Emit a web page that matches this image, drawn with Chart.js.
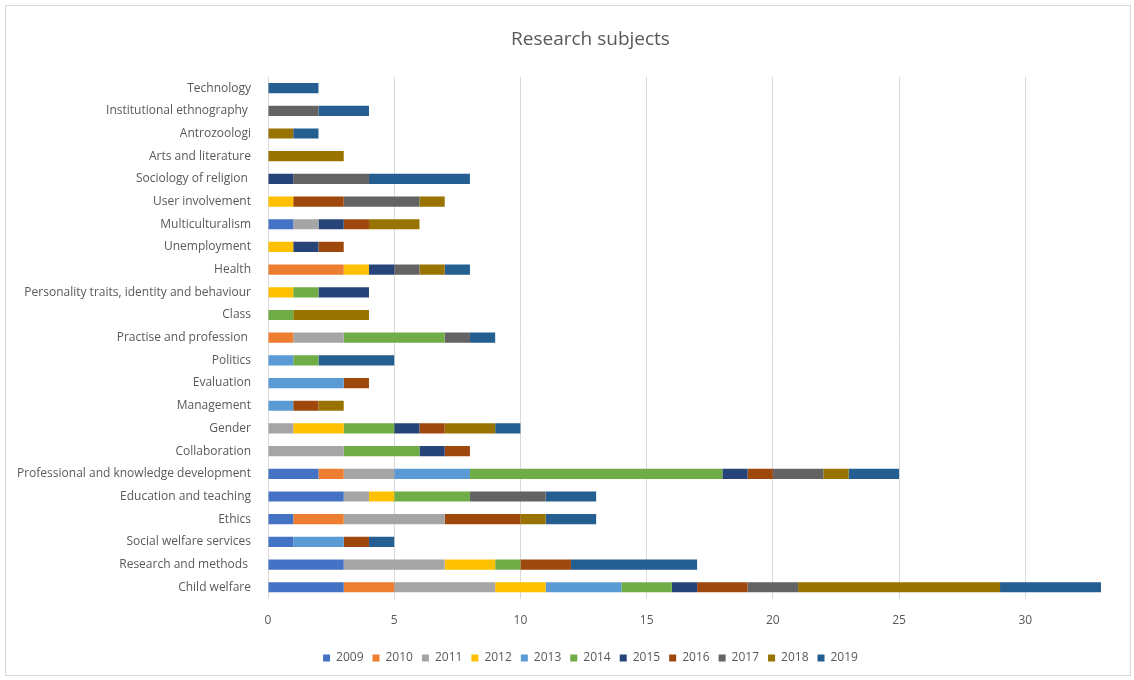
<!DOCTYPE html>
<html>
<head>
<meta charset="utf-8">
<script src="https://cdn.jsdelivr.net/npm/chart.js@4.4.0/dist/chart.umd.min.js"></script>
<style>
  html, body { margin: 0; padding: 0; background: #fff; }
  #wrap { position: relative; width: 1134px; height: 680px; }
  #frame { position: absolute; left: 5px; top: 5px; width: 1124px; height: 669px; border: 1px solid #d9d9d9; pointer-events: none; }
</style>
</head>
<body>
<div id="wrap">
  <canvas id="researchChart" width="1134" height="680"></canvas>
  <div id="frame"></div>
</div>
<script>
// Research subjects per year (categories top to bottom)
const subjects = [
  "Technology", "Institutional ethnography ", "Antrozoologi", "Arts and literature",
  "Sociology of religion ", "User involvement", "Multiculturalism", "Unemployment",
  "Health", "Personality traits, identity and behaviour", "Class", "Practise and profession ",
  "Politics", "Evaluation", "Management", "Gender", "Collaboration",
  "Professional and knowledge development", "Education and teaching", "Ethics",
  "Social welfare services", "Research and methods ", "Child welfare"
];

const years = ["2009", "2010", "2011", "2012", "2013", "2014", "2015", "2016", "2017", "2018", "2019"];

const y2009 = [0,0,0,0,0,0,1,0,0,0,0,0,0,0,0,0,0,2,3,1,1,3,3];
const y2010 = [0,0,0,0,0,0,0,0,3,0,0,1,0,0,0,0,0,1,0,2,0,0,2];
const y2011 = [0,0,0,0,0,0,1,0,0,0,0,2,0,0,0,1,3,2,1,4,0,4,4];
const y2012 = [0,0,0,0,0,1,0,1,1,1,0,0,0,0,0,2,0,0,1,0,0,2,2];
const y2013 = [0,0,0,0,0,0,0,0,0,0,0,0,1,3,1,0,0,3,0,0,2,0,3];
const y2014 = [0,0,0,0,0,0,0,0,0,1,1,4,1,0,0,2,3,10,3,0,0,1,2];
const y2015 = [0,0,0,0,1,0,1,1,1,2,0,0,0,0,0,1,1,1,0,0,0,0,1];
const y2016 = [0,0,0,0,0,2,1,1,0,0,0,0,0,1,1,1,1,1,0,3,1,2,2];
const y2017 = [0,2,0,0,3,3,0,0,1,0,0,1,0,0,0,0,0,2,3,0,0,0,2];
const y2018 = [0,0,1,3,0,1,2,0,1,0,3,0,0,0,1,2,0,1,0,1,0,0,8];
const y2019 = [2,2,1,0,4,0,0,0,1,0,0,1,3,0,0,1,0,2,2,2,1,5,4];

const xTicks = [0, 5, 10, 15, 20, 25, 30];

const seriesValues = [y2009, y2010, y2011, y2012, y2013, y2014, y2015, y2016, y2017, y2018, y2019];
const seriesColors = [
  "#4472C4", "#ED7D31", "#A5A5A5", "#FFC000", "#5B9BD5", "#70AD47",
  "#264478", "#9E480E", "#636363", "#997300", "#255E91"
];

const fontFamily = "'Open Sans', sans-serif";
const textColor = "#595959";

const ctx = document.getElementById("researchChart").getContext("2d");
new Chart(ctx, {
  type: "bar",
  data: {
    labels: subjects,
    datasets: years.map((yr, i) => ({
      label: yr,
      data: seriesValues[i],
      backgroundColor: seriesColors[i],
      borderWidth: 0,
      barPercentage: 0.45,
      categoryPercentage: 1.0,
    })),
  },
  options: {
    indexAxis: "y",
    responsive: false,
    animation: false,
    layout: {
      padding: { left: 80, right: 33, top: 10, bottom: 6 },
    },
    scales: {
      x: {
        stacked: true,
        min: 0,
        max: 33,
        afterBuildTicks: (scale) => {
          scale.ticks = xTicks.map((v) => ({ value: v }));
        },
        ticks: {
          color: textColor,
          font: { family: fontFamily, size: 12 },
          padding: 15,
        },
        grid: {
          color: "#d9d9d9",
          drawTicks: false,
        },
        border: { display: false },
      },
      y: {
        stacked: true,
        afterFit: (scale) => {
          // narrower box so title/legend centre like the original, but let long labels overflow
          scale.width = 188;
          scale._computeLabelArea = () => undefined;
        },
        ticks: {
          color: textColor,
          font: { family: fontFamily, size: 12 },
          padding: 9,
          autoSkip: false,
        },
        grid: { display: false },
        border: { display: false },
      },
    },
    plugins: {
      title: {
        display: true,
        text: "Research subjects",
        color: textColor,
        font: { family: fontFamily, size: 19, weight: "normal" },
        padding: { top: 18, bottom: 26 },
      },
      legend: {
        position: "bottom",
        labels: {
          color: textColor,
          font: { family: fontFamily, size: 12 },
          boxWidth: 7,
          boxHeight: 7,
          padding: 9,
        },
      },
      tooltip: { enabled: false },
    },
  },
});
</script>
</body>
</html>
